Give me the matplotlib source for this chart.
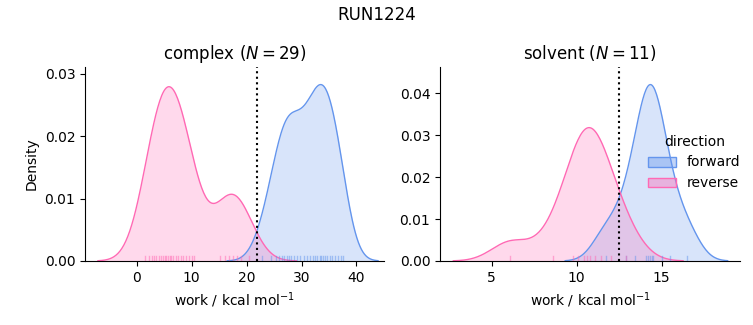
import numpy as np
import matplotlib
matplotlib.use("Agg")
import matplotlib.pyplot as plt
from matplotlib.patches import Patch

# work values
complex_forward = [22.8, 24.5, 25.3, 25.9, 26.4, 26.9, 27.3, 27.7, 28.1, 28.6,
                   29.2, 29.8, 30.4, 31.0, 31.6, 32.1, 32.5, 32.9, 33.3, 33.6,
                   33.9, 34.3, 34.7, 35.1, 35.6, 36.1, 36.6, 37.1, 37.6]
complex_reverse = [1.5, 2.2, 2.8, 3.2, 3.6, 4.0, 4.4, 4.8, 5.1, 5.4,
                   5.7, 6.0, 6.3, 6.7, 7.1, 7.5, 8.0, 8.5, 9.0, 9.5,
                   10.0, 10.5, 15.1, 16.1, 16.8, 17.5, 18.2, 19.0, 20.5]
solvent_forward = [11.7, 12.9, 13.4, 14.1, 14.2, 14.3, 14.4, 14.5, 15.0, 15.5, 16.5]
solvent_reverse = [6.1, 8.6, 9.8, 10.1, 10.4, 10.6, 10.8, 11.1, 11.4, 12.0, 12.9]

phases = ["complex", "solvent"]
estimates = [21.9, 12.5]  # dotted lines
directions = ["forward", "reverse"]
colors = {"forward": "#6495ED", "reverse": "#FF69B4"}

data = {
    "complex": {"forward": complex_forward, "reverse": complex_reverse},
    "solvent": {"forward": solvent_forward, "reverse": solvent_reverse},
}
n_total = sum(len(v) for p in data.values() for v in p.values())


def kde(values, cut=3, gridsize=200):
    x = np.asarray(values, dtype=float)
    bw = x.std(ddof=1) * len(x) ** (-1 / 5)
    grid = np.linspace(x.min() - cut * bw, x.max() + cut * bw, gridsize)
    dens = np.exp(-0.5 * ((grid[:, None] - x[None, :]) / bw) ** 2).sum(axis=1)
    dens = dens / (len(x) * bw * np.sqrt(2 * np.pi))
    return grid, dens


fig = plt.figure(figsize=(7.53, 3.25), dpi=100)
ax1 = fig.add_axes([0.1129, 0.197, 0.397, 0.597])
ax2 = fig.add_axes([0.5843, 0.197, 0.3984, 0.597])

for ax, phase, est in zip([ax1, ax2], phases, estimates):
    n = len(data[phase]["forward"])
    top = 0
    for d in directions:
        vals = data[phase][d]
        g, dens = kde(vals)
        dens = dens * len(vals) / n_total
        top = max(top, dens.max())
        ax.fill_between(g, 0, dens, color=colors[d], alpha=0.25, linewidth=0)
        ax.plot(g, dens, color=colors[d], linewidth=1)
    ax.set_ylim(0, top * 1.1)
    for d in directions:
        for v in data[phase][d]:
            ax.axvline(v, ymin=0, ymax=0.025, color=colors[d], alpha=0.5, linewidth=1)
    ax.axvline(est, color="black", linestyle=":", linewidth=1.5)
    ax.set_title(f"{phase} ($N = {n}$)")
    ax.set_xlabel("work / kcal mol$^{-1}$")
    ax.spines["top"].set_visible(False)
    ax.spines["right"].set_visible(False)

ax1.set_ylabel("Density")
ax1.set_xlim(-9.4, 45)
ax2.set_xlim(1.96, 19.6)
ax1.set_xticks([0, 10, 20, 30, 40])
ax2.set_xticks([5, 10, 15])

handles = [Patch(facecolor=matplotlib.colors.to_rgba(colors[d], 0.4),
                 edgecolor=colors[d], linewidth=1) for d in directions]
fig.legend(handles, directions, title="direction", loc="center left",
           bbox_to_anchor=(0.844, 0.5), frameon=False)

fig.suptitle("RUN1224")
fig.savefig("out.png", dpi=100)
